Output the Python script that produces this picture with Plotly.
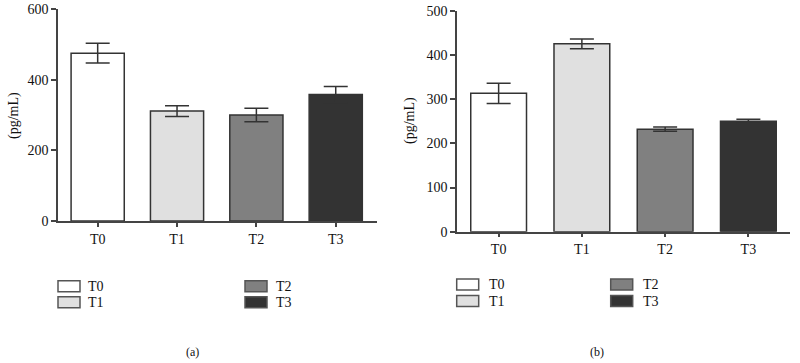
import plotly.graph_objects as go

categories = ["T0", "T1", "T2", "T3"]
colors = ["#ffffff", "#e0e0e0", "#808080", "#333333"]

values_a = [475, 311, 300, 358]
errors_a = [28, 15, 19, 23]
values_b = [313, 425, 232, 250]
errors_b = [23, 11, 5, 4.5]

W, H = 800, 363
FONT = "Liberation Serif"
TXT = "#111111"
AX = "#444444"

fig = go.Figure()

def add_panel(vals, errs, xa, ya):
    fig.add_trace(go.Bar(
        x=categories, y=vals, xaxis=xa, yaxis=ya, width=0.67,
        marker=dict(color=colors, line=dict(color="#333333", width=1.5)),
        error_y=dict(type="data", array=errs, visible=True, color="#333333",
                     thickness=1.5, width=12),
        showlegend=False,
    ))

add_panel(values_a, errors_a, "x", "y")
add_panel(values_b, errors_b, "x2", "y2")

def px(x):
    return x / W

def py(y):
    return 1 - y / H

axis_common = dict(showgrid=False, zeroline=False, showline=True, linecolor=AX, linewidth=1.5,
                   ticks="outside", tickcolor=AX, tickwidth=1.5, ticklen=5, automargin=False,
                   tickfont=dict(family=FONT, size=14, color=TXT))

fig.update_layout(
    template="none",
    width=W, height=H, margin=dict(l=0, r=0, t=0, b=0, pad=0),
    paper_bgcolor="white", plot_bgcolor="white",
    xaxis=dict(domain=[px(58), px(377)], range=[-0.5, 3.52], anchor="y", **axis_common),
    yaxis=dict(domain=[py(221), py(9)], range=[0, 600], tickvals=[0, 200, 400, 600],
               anchor="x", **axis_common),
    xaxis2=dict(domain=[px(457), px(790)], range=[-0.5, 3.5], anchor="y2", **axis_common),
    yaxis2=dict(domain=[py(231.7), py(10.7)], range=[0, 500], tickvals=[0, 100, 200, 300, 400, 500],
                anchor="x2", **axis_common),
)
fig.update_xaxes(ticklen=4)

ann = []
shapes = []
# y-axis titles
ann.append(dict(text="(pg/mL)", x=px(14), y=py(116), xref="paper", yref="paper",
                xanchor="center", yanchor="middle",
                textangle=-90, showarrow=False, font=dict(family=FONT, size=14, color=TXT)))
ann.append(dict(text="(pg/mL)", x=px(410), y=py(120), xref="paper", yref="paper",
                xanchor="center", yanchor="middle",
                textangle=-90, showarrow=False, font=dict(family=FONT, size=14, color=TXT)))
# captions
ann.append(dict(text="(a)", x=px(192), y=py(352), xref="paper", yref="paper",
                xanchor="center", yanchor="middle",
                showarrow=False, font=dict(family=FONT, size=12, color=TXT)))
ann.append(dict(text="(b)", x=px(597), y=py(352), xref="paper", yref="paper",
                xanchor="center", yanchor="middle",
                showarrow=False, font=dict(family=FONT, size=12, color=TXT)))

# legends: (x_box_left, x_text, y_centers) per column
legend_layout = [
    # panel a
    [(58, 86, [286.3, 302.3]), (245, 274, [286.3, 302.3])],
    # panel b
    [(456.7, 487, [284.5, 301]), (610.7, 640.5, [284.5, 301])],
]
for panel in legend_layout:
    for col, (bx, tx, ycs) in enumerate(panel):
        for row, yc in enumerate(ycs):
            i = col * 2 + row
            shapes.append(dict(type="rect", xref="paper", yref="paper",
                               x0=px(bx), x1=px(bx + 22), y0=py(yc + 5.5), y1=py(yc - 5.5),
                               fillcolor=colors[i], line=dict(color="#555555", width=1.5)))
            ann.append(dict(text=categories[i], x=px(tx), y=py(yc), xref="paper", yref="paper",
                            xanchor="left", yanchor="middle", showarrow=False,
                            font=dict(family=FONT, size=14, color=TXT)))

fig.update_layout(annotations=ann, shapes=shapes)
fig.write_html("out.html", config={"displayModeBar": False},
               post_script="document.body.style.margin='0';document.body.style.overflow='hidden';")
